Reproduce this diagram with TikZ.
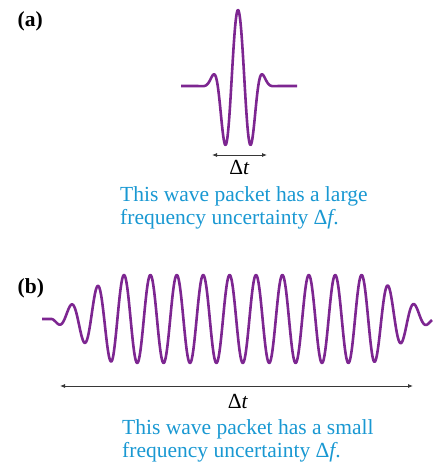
\documentclass[tikz,border=0pt]{standalone}
\usepackage{fontspec}
\setmainfont{Liberation Serif}
\usepackage{tikz}
\usetikzlibrary{arrows.meta,positioning}
\definecolor{wavepurple}{RGB}{125,38,145}
\definecolor{capblue}{RGB}{25,152,210}
\definecolor{spangray}{RGB}{55,55,55}

\begin{document}
\begin{tikzpicture}[
    x=1pt, y=-1pt,
    font=\fontsize{21.5}{23}\selectfont,
    wave/.style={line width=2.6pt, wavepurple, line join=round},
    span/.style={{Latex[length=5pt,width=4pt]}-{Latex[length=5pt,width=4pt]}, line width=0.8pt, spangray},
    caption/.style={capblue, align=left, inner sep=0pt, anchor=north west},
    panel/.style={font=\fontsize{21.5}{23}\selectfont\bfseries, inner sep=0pt, anchor=base west}
]
\useasboundingbox (0,0) rectangle (441,465);

% (a) short packet
\node[panel] (lab-a) at (17.5,27) {(a)};
\draw[wave] plot[domain=181:297, samples=240]
    (\x, {86 - 76*exp(-min(9,(abs(\x-238)/20.5)^3))*cos((\x-238)*13.3333)});
\coordinate (a-left) at (212,155);
\coordinate (a-right) at (267,155);
\draw[span] (a-left) -- (a-right);
\node[inner sep=0pt, anchor=base] (dt-a) at (239.5,175) {Δ\textit{t}};
\node[caption] (cap-a) at (120,186.5)
    {This wave packet has a large\\frequency uncertainty Δ\textit{f}.};

% (b) long packet
\node[panel] (lab-b) at (17.5,293) {(b)};
\draw[wave] plot[domain=42:432, samples=700]
    (\x, {319 - 44*min(1,max(0,(192-abs(\x-243))/62))*cos((\x-124)*13.6364)});
\coordinate (b-left) at (60,386);
\coordinate (b-right) at (413,386);
\draw[span] (b-left) -- (b-right);
\node[inner sep=0pt, anchor=base] (dt-b) at (238,408) {Δ\textit{t}};
\node[caption] (cap-b) at (122,419.5)
    {This wave packet has a small\\frequency uncertainty Δ\textit{f}.};
\end{tikzpicture}
\end{document}
